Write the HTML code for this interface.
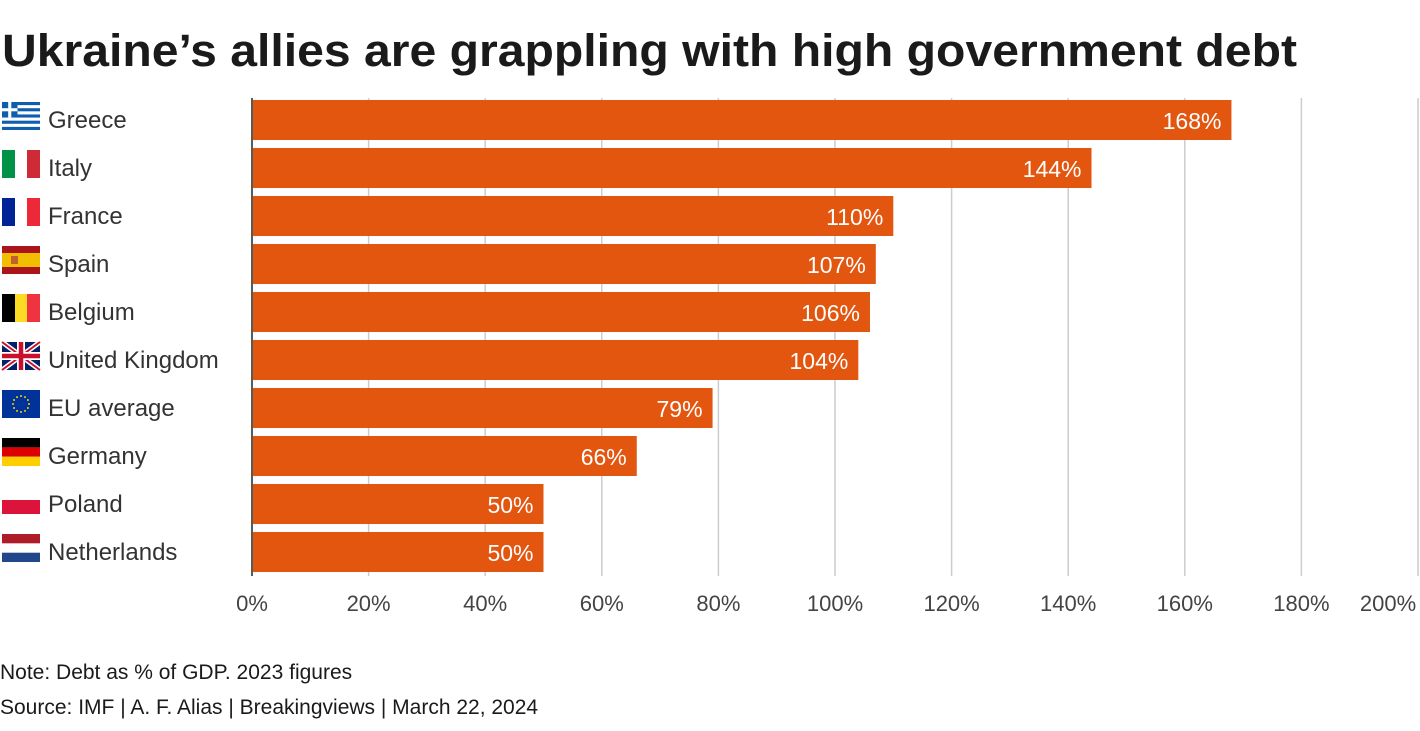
<!DOCTYPE html>
<html><head><meta charset="utf-8"><style>
body{margin:0;background:#fff;width:1420px;height:726px;overflow:hidden;font-family:"Liberation Sans",sans-serif;}
</style></head><body>
<svg width="1420" height="726" id="c">
<text x="2" y="66" font-size="45" font-weight="bold" fill="#1a1a1a" textLength="1295" lengthAdjust="spacingAndGlyphs">Ukraine’s allies are grappling with high government debt</text>
<text x="0" y="679" font-size="21" fill="#1a1a1a">Note: Debt as % of GDP. 2023 figures</text>
<text x="0" y="714" font-size="21" fill="#1a1a1a">Source: IMF | A. F. Alias | Breakingviews | March 22, 2024</text>
<g id="grid"></g><g id="bars"></g><g id="flags"></g>
</svg>
<script>
const countries=["Greece","Italy","France","Spain","Belgium","United Kingdom","EU average","Germany","Poland","Netherlands"];
const values=[168,144,110,107,106,104,79,66,50,50];
const ticks=[0,20,40,60,80,100,120,140,160,180,200];
const NS="http://www.w3.org/2000/svg";
const x0=252,xs=5.83,y0=100,step=48,bh=40;
const X=v=>x0+v*xs, Y=i=>y0+i*step;
function mk(t,a,p){const e=document.createElementNS(NS,t);for(const k in a)e.setAttribute(k,a[k]);p.appendChild(e);return e;}
const g=document.getElementById('grid'),b=document.getElementById('bars'),f=document.getElementById('flags');
ticks.forEach(t=>{
 const l=mk('line',{x1:X(t),x2:X(t),y1:98,y2:576,stroke:t===0?'#222':'#ccc','stroke-width':1.5},g);
 
 
 const tx=mk('text',{x:t===200?X(t)-30:X(t),y:611,'font-size':22,fill:'#444','text-anchor':'middle'},g);
 tx.textContent=t+'%';
 
 
});
const flags={
Greece:'<rect width="38" height="28" fill="#fff"/>'+[0,2,4,6,8].map(i=>`<rect y="${i*3.11}" width="38" height="3.11" fill="#0d5eaf"/>`).join('')+'<rect width="15.5" height="15.5" fill="#0d5eaf"/><rect x="6.2" width="3.1" height="15.5" fill="#fff"/><rect y="6.2" width="15.5" height="3.1" fill="#fff"/>',
Italy:'<rect width="13" height="28" fill="#009246"/><rect x="13" width="12" height="28" fill="#fff"/><rect x="25" width="13" height="28" fill="#ce2b37"/>',
France:'<rect width="13" height="28" fill="#002395"/><rect x="13" width="12" height="28" fill="#fff"/><rect x="25" width="13" height="28" fill="#ed2939"/>',
Spain:'<rect width="38" height="28" fill="#aa151b"/><rect y="7" width="38" height="14" fill="#f1bf00"/><rect x="9" y="10" width="7" height="8" fill="#c06030"/>',
Belgium:'<rect width="13" height="28" fill="#000"/><rect x="13" width="12" height="28" fill="#fdda24"/><rect x="25" width="13" height="28" fill="#ef3340"/>',
"United Kingdom":'<rect width="38" height="28" fill="#012169"/><path d="M0 0L38 28M38 0L0 28" stroke="#fff" stroke-width="5"/><path d="M0 0L38 28M38 0L0 28" stroke="#c8102e" stroke-width="2"/><path d="M19 0V28M0 14H38" stroke="#fff" stroke-width="8"/><path d="M19 0V28M0 14H38" stroke="#c8102e" stroke-width="4.5"/>',
"EU average":'<rect width="38" height="28" fill="#039"/>'+[...Array(12)].map((_,i)=>`<circle cx="${19+8*Math.cos(i*Math.PI/6)}" cy="${14+8*Math.sin(i*Math.PI/6)}" r="1" fill="#fc0"/>`).join(''),
Germany:'<rect width="38" height="9.4" fill="#000"/><rect y="9.4" width="38" height="9.3" fill="#dd0000"/><rect y="18.7" width="38" height="9.3" fill="#ffce00"/>',
Poland:'<rect width="38" height="14" fill="#fff"/><rect y="14" width="38" height="14" fill="#dc143c"/>',
Netherlands:'<rect width="38" height="9.4" fill="#ae1c28"/><rect y="9.4" width="38" height="9.3" fill="#fff"/><rect y="18.7" width="38" height="9.3" fill="#21468b"/>'
};
countries.forEach((c,i)=>{
 const r=mk('rect',{x:X(0)+1,y:Y(i),width:X(values[i])-X(0)-1,height:bh,fill:'#e3560f'},b);
 
 
 const v=mk('text',{x:X(values[i])-10,y:Y(i)+29,'font-size':23,fill:'#fff','text-anchor':'end'},b);
 v.textContent=values[i]+'%';
 
 
 const fg=mk('g',{transform:`translate(2,${Y(i)+2})`},f);
 fg.innerHTML=flags[c];
 
 
 const t=mk('text',{x:48,y:Y(i)+28,'font-size':24,fill:'#333'},f);
 t.textContent=c;
 
 
});
</script>
</body></html>
